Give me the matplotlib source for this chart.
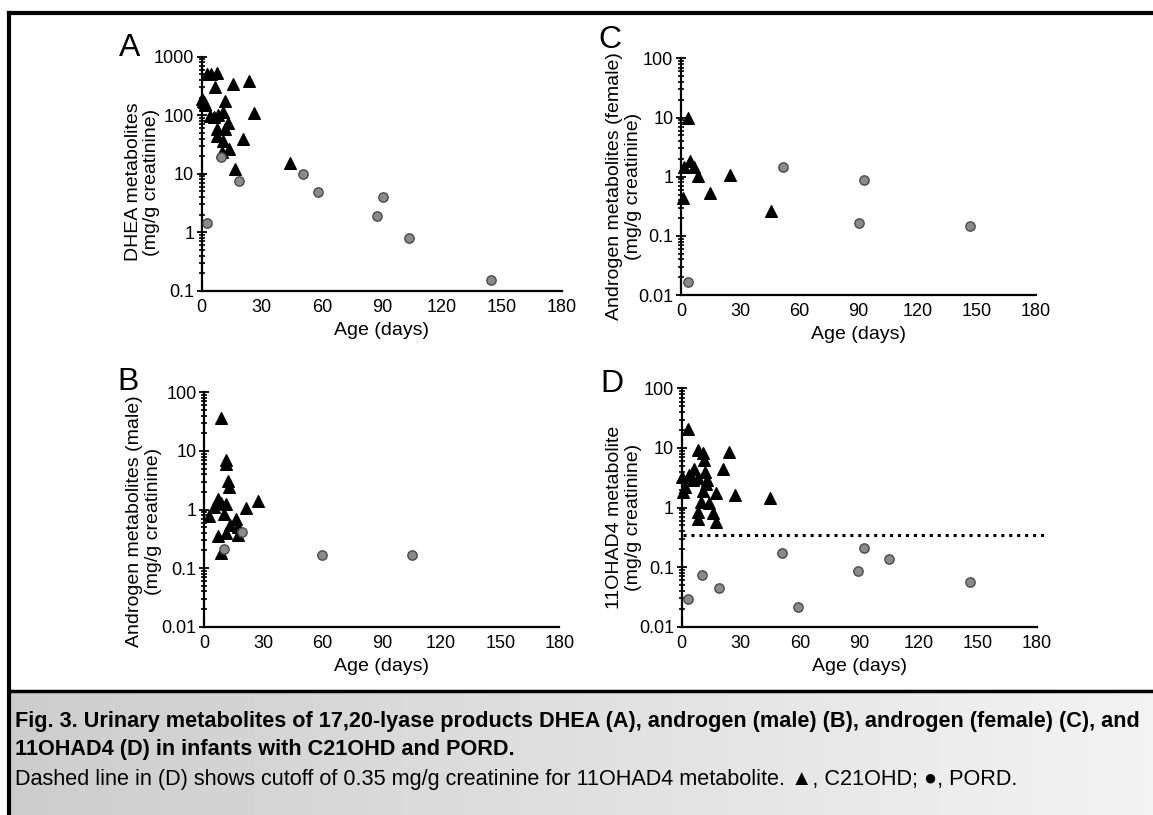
import numpy as np
import matplotlib
matplotlib.use("Agg")
import matplotlib.pyplot as plt
from matplotlib.ticker import LogLocator, NullFormatter, FixedLocator, FixedFormatter

plt.rcParams['font.family'] = ['Liberation Sans', 'DejaVu Sans']

# ---- data (age in days, metabolite in mg/g creatinine) ----
a_c21_age = [0.3, 1.0, 1.8, 2.5, 4.7, 7.8, 6.8, 15.8, 23.5, 11.6, 0.8, 1.6, 26.3,
             4.2, 6.2, 8.0, 10.8, 13.0, 11.7, 7.8, 7.8, 10.8, 20.5, 13.8, 10.0, 16.7, 44.0]
a_c21_val = [190, 170, 150, 500, 500, 533, 300, 338, 389, 177, 175, 154, 111,
             97, 95, 101, 115, 75, 58, 58, 45, 37, 39, 27, 24, 12, 15.5]
a_pord_age = [2.8, 9.7, 18.8, 50.5, 58.3, 87.8, 90.7, 103.7, 144.5]
a_pord_val = [1.43, 19, 7.6, 10, 4.96, 1.93, 4.07, 0.81, 0.156]

b_c21_age = [8.3, 11.0, 11.0, 12.2, 12.3, 2.2, 5.1, 6.8, 8.3, 11.0, 10.1, 16.1,
             13.0, 17.3, 21.1, 27.2, 6.9, 11.0, 17.3, 8.3]
b_c21_val = [36, 7.0, 6.0, 3.1, 2.4, 0.77, 1.09, 1.49, 1.27, 1.22, 0.83, 0.70,
             0.54, 0.51, 1.06, 1.40, 0.36, 0.40, 0.37, 0.18]
b_pord_age = [19.3, 10.0, 59.5, 105.5]
b_pord_val = [0.41, 0.21, 0.167, 0.169]

c_c21_age = [3.7, 1.7, 4.6, 6.8, 8.8, 1.0, 14.7, 24.8, 45.6]
c_c21_val = [9.7, 1.44, 1.84, 1.48, 1.04, 0.43, 0.54, 1.07, 0.26]
c_pord_age = [3.4, 51.5, 93.0, 90.1, 146.7]
c_pord_val = [0.0168, 1.44, 0.88, 0.163, 0.149]

d_c21_age = [3.0, 8.1, 11.0, 11.3, 24.2, 6.3, 21.1, 11.8, 0.0, 3.9, 5.6, 8.1, 12.7,
             12.2, 1.7, 0.8, 11.0, 17.2, 27.0, 44.8, 9.8, 14.0, 8.1, 16.1, 8.1, 17.2]
d_c21_val = [21, 9.2, 8.1, 6.3, 8.6, 4.5, 4.4, 4.0, 3.3, 3.5, 2.9, 3.1, 2.9,
             2.5, 2.2, 1.8, 1.9, 1.73, 1.62, 1.43, 1.25, 1.2, 0.85, 0.80, 0.64, 0.58]
d_pord_age = [3.0, 10.1, 19.1, 50.9, 59.2, 89.2, 92.4, 105.3, 146.2]
d_pord_val = [0.029, 0.075, 0.044, 0.175, 0.0217, 0.087, 0.207, 0.135, 0.056]
d_cutoff = 0.35

x_ticks = [0, 30, 60, 90, 120, 150, 180]
log_ticks = [0.01, 0.1, 1, 10, 100]
log_labels = ['0.01', '0.1', '1', '10', '100']

W, H = 1153, 815
fig = plt.figure(figsize=(W / 100, H / 100), dpi=100)

# background: caption band with gray gradient, frame lines
bg = fig.add_axes([0, 0, 1, 1], zorder=-10)
bg.set_xlim(0, W)
bg.set_ylim(H, 0)
bg.axis('off')
grad = np.linspace(0.80, 0.95, 256)[None, :]
bg.imshow(grad, cmap='gray', vmin=0, vmax=1, extent=[9, W, H, 691], aspect='auto')
bg.plot([9, W], [13, 13], color='black', lw=3)
bg.plot([9, 9], [13, H], color='black', lw=3)
bg.plot([9, W], [691, 691], color='black', lw=2.5)


def panel(rect, ylabel, c21x, c21y, pordx, pordy, ylim, yticks, ylabels, lab_xy):
    ax = fig.add_axes(rect)
    ax.set_yscale('log')
    ax.scatter(c21x, c21y, marker='^', s=70, color='black', zorder=3, clip_on=False)
    ax.scatter(pordx, pordy, marker='o', s=45, facecolor='#8a8a8a',
               edgecolor='#4a4a4a', linewidth=1, zorder=3, clip_on=False)
    ax.set_xlim(0, 180)
    ax.set_ylim(*ylim)
    for s in ['top', 'right']:
        ax.spines[s].set_visible(False)
    ax.spines['left'].set_linewidth(1.6)
    ax.spines['bottom'].set_linewidth(1.6)
    ax.xaxis.set_major_locator(FixedLocator(x_ticks))
    ax.yaxis.set_major_locator(FixedLocator(yticks))
    ax.yaxis.set_major_formatter(FixedFormatter(ylabels))
    ax.yaxis.set_minor_locator(LogLocator(base=10, subs=np.arange(2, 10)))
    ax.yaxis.set_minor_formatter(NullFormatter())
    ax.tick_params(axis='x', length=0, pad=6, labelsize=13)
    ax.tick_params(axis='y', which='major', direction='inout', length=7, width=1.3,
                   pad=2, labelsize=13)
    ax.tick_params(axis='y', which='minor', direction='inout', length=5, width=1.2)
    ax.set_xlabel('Age (days)', fontsize=14, labelpad=4)
    ax.set_ylabel(ylabel, fontsize=14, linespacing=1.1)
    ax.yaxis.set_label_coords(*lab_xy)
    return ax


axA = panel([0.175, 0.643, 0.3122, 0.2875], 'DHEA metabolites\n(mg/g creatinine)',
            a_c21_age, a_c21_val, a_pord_age, a_pord_val, (0.1, 1000),
            [0.1, 1, 10, 100, 1000], ['0.1', '1', '10', '100', '1000'], (-0.116, 0.465))
axB = panel([0.1772, 0.231, 0.308, 0.2876], 'Androgen metabolites (male)\n(mg/g creatinine)',
            b_c21_age, b_c21_val, b_pord_age, b_pord_val, (0.01, 100),
            log_ticks, log_labels, (-0.12, 0.45))
axC = panel([0.5906, 0.638, 0.3079, 0.2904], 'Androgen metabolites (female)\n(mg/g creatinine)',
            c_c21_age, c_c21_val, c_pord_age, c_pord_val, (0.01, 100),
            log_ticks, log_labels, (-0.111, 0.46))
axD = panel([0.5912, 0.231, 0.3079, 0.2925], '11OHAD4 metabolite\n(mg/g creatinine)',
            d_c21_age, d_c21_val, d_pord_age, d_pord_val, (0.01, 100),
            log_ticks, log_labels, (-0.113, 0.458))
axD.plot([0.5, 184], [d_cutoff, d_cutoff], color='black', lw=2.2, ls=(0, (1, 1.6)),
         clip_on=False, zorder=2)

# panel letters (baseline positions)
for letter, (px, py) in zip('ABCD', [(130, 56), (128, 390), (610, 48), (612, 392)]):
    fig.text(px / W, 1 - py / H, letter, fontsize=23, ha='center', va='baseline')

# caption (font size fitted to the width of the printed lines)
renderer = fig.canvas.get_renderer()


def fit_text(x, y, s, target_px, size0, **kw):
    t = fig.text(x / W, 1 - y / H, s, fontsize=size0, va='center', ha='left', **kw)
    w = t.get_window_extent(renderer).width
    t.set_fontsize(size0 * target_px / w)
    return t


cap1 = fit_text(15, 722, 'Fig. 3. Urinary metabolites of 17,20-lyase products DHEA (A), '
                'androgen (male) (B), androgen (female) (C), and', 1125, 14, fontweight='bold')
fig.text(15 / W, 1 - 749 / H, '11OHAD4 (D) in infants with C21OHD and PORD.',
         fontsize=cap1.get_fontsize(), fontweight='bold', va='center', ha='left')
fit_text(15, 780, 'Dashed line in (D) shows cutoff of 0.35 mg/g creatinine for 11OHAD4 '
         'metabolite. \u25B2, C21OHD; \u25CF, PORD.', 1000, 13)

fig.savefig('out.png', dpi=100)
